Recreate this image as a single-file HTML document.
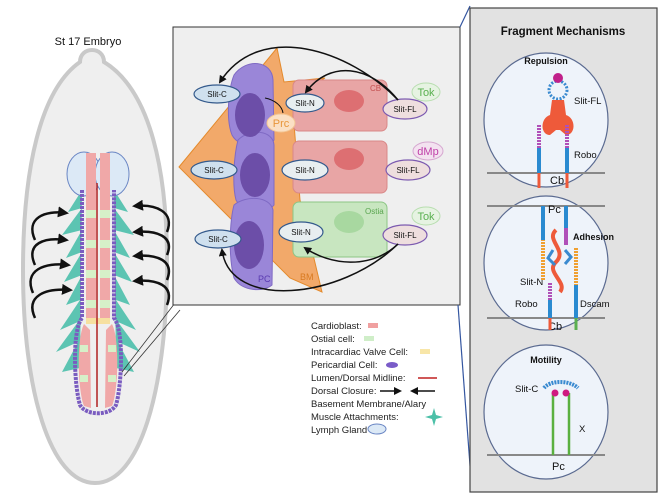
<!DOCTYPE html>
<html><head><meta charset="utf-8"><style>
html,body{margin:0;padding:0;background:#fff;}
svg{display:block;font-family:"Liberation Sans",sans-serif;}
</style></head><body>
<svg width="669" height="500" viewBox="0 0 669 500">
<defs>
<marker id="ah" markerWidth="8" markerHeight="8" refX="6" refY="4" orient="auto" markerUnits="userSpaceOnUse"><path d="M0,0 L8,4 L0,8 z" fill="#111"/></marker>
<marker id="ah2" markerWidth="11" markerHeight="11" refX="8" refY="5.5" orient="auto" markerUnits="userSpaceOnUse"><path d="M0,0 L11,5.5 L0,11 z" fill="#111"/></marker>
</defs>
<!-- Embryo -->
<text x="88" y="45" font-size="11" text-anchor="middle" fill="#111">St 17 Embryo</text>
<path d="M80,62 C80,46 104,46 104,62 C150,90 168,170 167,270 C166,390 140,483 95,483 C50,483 23,390 23,270 C23,170 40,90 80,62 Z" fill="#efefef" stroke="#c9c9c9" stroke-width="4"/>
<g fill="#5cc4b2">
<polygon points="82,190 68,212 82,208 62,235 82,230 66,258 82,252 64,282 82,275 66,305 80,300 60,330 78,322 56,352 78,342 62,372 80,368"/>
<polygon points="114,190 128,212 114,208 134,235 114,230 130,258 114,252 132,282 114,275 130,305 116,300 136,330 118,322 140,352 118,342 134,372 116,368"/>
</g>
<ellipse cx="84" cy="174" rx="17" ry="22" fill="#dce9f6" stroke="#6a86c4"/>
<ellipse cx="112" cy="174" rx="17" ry="22" fill="#dce9f6" stroke="#6a86c4"/>
<path d="M82,190 L82,318 C72,330 74,385 80,405 C86,416 110,416 116,405 C122,385 124,330 114,318 L114,190" fill="none" stroke="#7a5cc0" stroke-width="4" stroke-dasharray="3,1"/>
<rect x="86" y="153" width="10" height="165" fill="#f0a8a8"/>
<rect x="100" y="153" width="10" height="165" fill="#f0a8a8"/>
<g fill="#d6f0c8"><rect x="86" y="210" width="10" height="8"/><rect x="100" y="210" width="10" height="8"/><rect x="86" y="240" width="10" height="8"/><rect x="100" y="240" width="10" height="8"/><rect x="86" y="270" width="10" height="8"/><rect x="100" y="270" width="10" height="8"/><rect x="86" y="300" width="10" height="8"/><rect x="100" y="300" width="10" height="8"/></g>
<rect x="86" y="318" width="24" height="6" fill="#f6e0a0"/>
<path d="M84,324 C76,340 78,392 84,406 L91,408 L90,330 Z" fill="#f0a8a8"/>
<path d="M112,324 C120,340 118,392 112,406 L105,408 L106,330 Z" fill="#f0a8a8"/>
<g fill="#d6f0c8"><rect x="80" y="345" width="8" height="7"/><rect x="108" y="345" width="8" height="7"/><rect x="80" y="375" width="8" height="7"/><rect x="108" y="375" width="8" height="7"/></g>
<line x1="97" y1="183" x2="97" y2="407" stroke="#b02020" stroke-width="1.5"/>
<g fill="none" stroke="#111" stroke-width="2.5" marker-end="url(#ah2)">
<path d="M35,240 C25,218 45,210 66,213"/>
<path d="M35,265 C25,243 45,237 66,240"/>
<path d="M33,293 C23,270 45,262 68,265"/>
<path d="M35,318 C25,296 45,288 70,290"/>
<path d="M167,232 C175,212 156,204 135,206"/>
<path d="M167,255 C175,236 156,230 135,232"/>
<path d="M167,280 C175,260 156,254 135,256"/>
<path d="M167,305 C175,285 156,279 135,281"/>
</g>
<line x1="175" y1="303" x2="122" y2="372" stroke="#333" stroke-width="0.8"/>
<line x1="180" y1="310" x2="124" y2="376" stroke="#333" stroke-width="0.8"/>
<!-- Middle box -->
<rect x="173" y="27" width="287" height="278" fill="#efefef" stroke="#333" stroke-width="1"/>
<polygon points="179,167 277,48 284,82 325,78 292,98 300,200 322,292 290,278" fill="#f2a96a" stroke="#e48a2c"/>
<text x="300" y="280" font-size="9" fill="#d87a20">BM</text>
<rect x="293" y="80" width="94" height="51" rx="6" fill="#e8a5a5" stroke="#d98888"/>
<ellipse cx="349" cy="101" rx="15" ry="11" fill="#dd6f72"/>
<text x="370" y="91" font-size="8" fill="#c45050">CB</text>
<rect x="293" y="141" width="94" height="52" rx="6" fill="#e8a5a5" stroke="#d98888"/>
<ellipse cx="349" cy="159" rx="15" ry="11" fill="#dd6f72"/>
<rect x="293" y="202" width="94" height="55" rx="6" fill="#c8e6c0" stroke="#8cc685"/>
<ellipse cx="349" cy="222" rx="15" ry="11" fill="#a8d8a0"/>
<text x="365" y="214" font-size="8" fill="#5aa550">Ostia</text>
<g fill="#9a86d8" stroke="#7f6ac4">
<path d="M234,75 C246,58 272,60 273,80 L274,140 C268,150 240,150 232,135 C226,120 228,90 234,75 Z"/>
<path d="M238,140 C250,128 273,130 274,145 L274,205 C266,215 244,215 236,200 C232,185 234,155 238,140 Z"/>
<path d="M234,205 C246,195 270,196 273,210 L272,285 C264,292 242,292 234,278 C228,255 230,220 234,205 Z"/>
</g>
<ellipse cx="250" cy="115" rx="15" ry="22" fill="#6c4ea8"/>
<ellipse cx="255" cy="175" rx="15" ry="22" fill="#6c4ea8"/>
<ellipse cx="249" cy="245" rx="15" ry="24" fill="#6c4ea8"/>
<text x="258" y="282" font-size="9" fill="#5a3ab0">PC</text>
<g font-size="8" text-anchor="middle" fill="#111">
<ellipse cx="217" cy="94" rx="23" ry="9" fill="#cfe0ee" stroke="#345a8c" stroke-width="1.2"/><text x="217" y="97">Slit-C</text>
<ellipse cx="214" cy="170" rx="23" ry="9" fill="#cfe0ee" stroke="#345a8c" stroke-width="1.2"/><text x="214" y="173">Slit-C</text>
<ellipse cx="218" cy="239" rx="23" ry="9" fill="#cfe0ee" stroke="#345a8c" stroke-width="1.2"/><text x="218" y="242">Slit-C</text>
<ellipse cx="305" cy="103" rx="19" ry="9" fill="#e8eef0" stroke="#345a8c" stroke-width="1.2"/><text x="305" y="106">Slit-N</text>
<ellipse cx="305" cy="170" rx="23" ry="10" fill="#e8eef0" stroke="#345a8c" stroke-width="1.2"/><text x="305" y="173">Slit-N</text>
<ellipse cx="301" cy="232" rx="22" ry="10" fill="#e8eef0" stroke="#345a8c" stroke-width="1.2"/><text x="301" y="235">Slit-N</text>
<ellipse cx="405" cy="109" rx="22" ry="10" fill="#eedede" stroke="#7c5ab0" stroke-width="1.2"/><text x="405" y="112">Slit-FL</text>
<ellipse cx="408" cy="170" rx="22" ry="10" fill="#eedede" stroke="#7c5ab0" stroke-width="1.2"/><text x="408" y="173">Slit-FL</text>
<ellipse cx="405" cy="235" rx="22" ry="10" fill="#eedede" stroke="#7c5ab0" stroke-width="1.2"/><text x="405" y="238">Slit-FL</text>
</g>
<ellipse cx="281" cy="123" rx="14" ry="9" fill="#fbe0c4" stroke="#f3c593"/><text x="281" y="127" font-size="11" text-anchor="middle" fill="#e8963a">Prc</text>
<ellipse cx="426" cy="92" rx="14" ry="9" fill="#e6f3e2" stroke="#b8deb0"/><text x="426" y="96" font-size="11" text-anchor="middle" fill="#5ab050">Tok</text>
<ellipse cx="428" cy="151" rx="15" ry="9" fill="#f3e2f0" stroke="#d6a8d0"/><text x="428" y="155" font-size="11" text-anchor="middle" fill="#c040a8">dMp</text>
<ellipse cx="426" cy="216" rx="14" ry="9" fill="#e6f3e2" stroke="#b8deb0"/><text x="426" y="220" font-size="11" text-anchor="middle" fill="#5ab050">Tok</text>
<g fill="none" stroke="#111" stroke-width="1.5" marker-end="url(#ah)">
<path d="M398,100 C350,50 260,20 220,82"/>
<path d="M398,100 C370,65 330,60 306,92"/>
<path d="M398,244 C370,270 330,265 305,248"/>
<path d="M398,244 C340,300 230,310 222,250"/>
</g>
<path d="M265,98 C275,100 282,106 283,113" fill="none" stroke="#111" stroke-width="1"/>
<!-- Legend -->
<g font-size="9.5" fill="#222">
<text x="311" y="329">Cardioblast:</text><rect x="368" y="323" width="10" height="5" fill="#f0a0a0"/>
<text x="311" y="342">Ostial cell:</text><rect x="364" y="336" width="10" height="5" fill="#cfeec8"/>
<text x="311" y="355">Intracardiac Valve Cell:</text><rect x="420" y="349" width="10" height="5" fill="#f8e6a8"/>
<text x="311" y="368">Pericardial Cell:</text><ellipse cx="392" cy="365" rx="6" ry="3" fill="#7a5cc8"/>
<text x="311" y="381">Lumen/Dorsal Midline:</text><line x1="418" y1="378" x2="437" y2="378" stroke="#c02020" stroke-width="1.5"/>
<text x="311" y="394">Dorsal Closure:</text>
<line x1="380" y1="391" x2="400" y2="391" stroke="#111" stroke-width="1.5" marker-end="url(#ah)"/>
<line x1="435" y1="391" x2="412" y2="391" stroke="#111" stroke-width="1.5" marker-end="url(#ah)"/>
<text x="311" y="407">Basement Membrane/Alary</text>
<text x="311" y="420">Muscle Attachments:</text>
<polygon points="434,408 436,415 443,417 436,419 434,426 432,419 425,417 432,415" fill="#4cc0a8"/>
<text x="311" y="433">Lymph Gland</text><ellipse cx="377" cy="429" rx="9" ry="5" fill="#dce9f6" stroke="#6a86c4"/>
</g>
<line x1="470" y1="6" x2="460" y2="27" stroke="#3456a0" stroke-width="1.2"/>
<line x1="472" y1="492" x2="458" y2="305" stroke="#3456a0" stroke-width="1.2"/>
<!-- Right panel -->
<rect x="470" y="8" width="187" height="484" fill="#e2e2e2" stroke="#444" stroke-width="1.2"/>
<text x="563" y="35" font-size="11.5" font-weight="bold" text-anchor="middle" fill="#111">Fragment Mechanisms</text>
<ellipse cx="546" cy="120" rx="62" ry="67" fill="#eef3fa" stroke="#5a6a90" stroke-width="1.2"/>
<ellipse cx="546" cy="263" rx="62" ry="67" fill="#eef3fa" stroke="#5a6a90" stroke-width="1.2"/>
<ellipse cx="546" cy="412" rx="62" ry="67" fill="#eef3fa" stroke="#5a6a90" stroke-width="1.2"/>
<line x1="487" y1="173" x2="605" y2="173" stroke="#888" stroke-width="2"/>
<line x1="487" y1="206" x2="605" y2="206" stroke="#888" stroke-width="2"/>
<line x1="487" y1="318" x2="605" y2="318" stroke="#888" stroke-width="2"/>
<line x1="487" y1="455" x2="605" y2="455" stroke="#888" stroke-width="2"/>
<g font-size="9" fill="#111" font-weight="bold">
<text x="546" y="64" text-anchor="middle">Repulsion</text>
<text x="573" y="240">Adhesion</text>
<text x="546" y="363" text-anchor="middle">Motility</text>
</g>
<g font-size="9.5" fill="#111">
<text x="574" y="104">Slit-FL</text><text x="574" y="158">Robo</text>
<text x="550" y="184" font-size="11">Cb</text>
<text x="548" y="213" font-size="11">Pc</text>
<text x="520" y="285">Slit-N</text><text x="515" y="307">Robo</text><text x="580" y="307">Dscam</text>
<text x="548" y="330" font-size="11">Cb</text>
<text x="515" y="392">Slit-C</text><text x="579" y="432">X</text>
<text x="552" y="470" font-size="11">Pc</text>
</g>
<circle cx="558" cy="90" r="9" fill="none" stroke="#3a8ad0" stroke-width="3" stroke-dasharray="2,1.5"/>
<circle cx="558" cy="78" r="5" fill="#c0208a"/>
<path d="M552,100 L564,100 L566,115 C576,118 576,135 566,135 L560,130 L556,130 L550,135 C540,135 540,118 550,115 Z" fill="#ee5a3a"/>
<line x1="539" y1="125" x2="539" y2="173" stroke="#b050b8" stroke-width="4" stroke-dasharray="2,1"/>
<line x1="567" y1="125" x2="567" y2="173" stroke="#b050b8" stroke-width="4" stroke-dasharray="2,1"/>
<line x1="539" y1="148" x2="539" y2="173" stroke="#2a8ad0" stroke-width="4"/>
<line x1="567" y1="148" x2="567" y2="173" stroke="#2a8ad0" stroke-width="4"/>
<line x1="539" y1="173" x2="539" y2="188" stroke="#ee5a3a" stroke-width="3"/>
<line x1="567" y1="173" x2="567" y2="188" stroke="#ee5a3a" stroke-width="3"/>
<line x1="543" y1="206" x2="543" y2="280" stroke="#f0a030" stroke-width="4" stroke-dasharray="2,1"/>
<line x1="543" y1="206" x2="543" y2="240" stroke="#2a8ad0" stroke-width="4"/>
<line x1="566" y1="206" x2="566" y2="245" stroke="#2a8ad0" stroke-width="4"/>
<line x1="566" y1="228" x2="566" y2="245" stroke="#b050b8" stroke-width="4"/>
<line x1="576" y1="248" x2="576" y2="318" stroke="#f0a030" stroke-width="4" stroke-dasharray="2,1"/>
<line x1="576" y1="285" x2="576" y2="318" stroke="#2a8ad0" stroke-width="4"/>
<line x1="550" y1="283" x2="550" y2="318" stroke="#b050b8" stroke-width="4" stroke-dasharray="2,1"/>
<line x1="550" y1="300" x2="550" y2="318" stroke="#2a8ad0" stroke-width="4"/>
<path d="M556,230 C545,240 568,250 556,262 C545,272 568,282 560,292" fill="none" stroke="#ee5a3a" stroke-width="4"/>
<path d="M553,250 L548,258 L555,265" fill="none" stroke="#3a8ad0" stroke-width="3"/>
<path d="M565,250 L571,257 L565,264" fill="none" stroke="#3a8ad0" stroke-width="3"/>
<line x1="550" y1="318" x2="550" y2="330" stroke="#ee5a3a" stroke-width="3"/>
<line x1="576" y1="318" x2="576" y2="330" stroke="#5ab050" stroke-width="3"/>
<line x1="553" y1="393" x2="553" y2="455" stroke="#5ab040" stroke-width="2.5"/>
<line x1="569" y1="393" x2="569" y2="455" stroke="#5ab040" stroke-width="2.5"/>
<path d="M544,388 C550,380 570,380 578,388" fill="none" stroke="#3a8ad0" stroke-width="4" stroke-dasharray="2,1"/>
<circle cx="555" cy="393" r="3.5" fill="#d01a80"/><circle cx="566" cy="393" r="3.5" fill="#d01a80"/>
</svg>
</body></html>
